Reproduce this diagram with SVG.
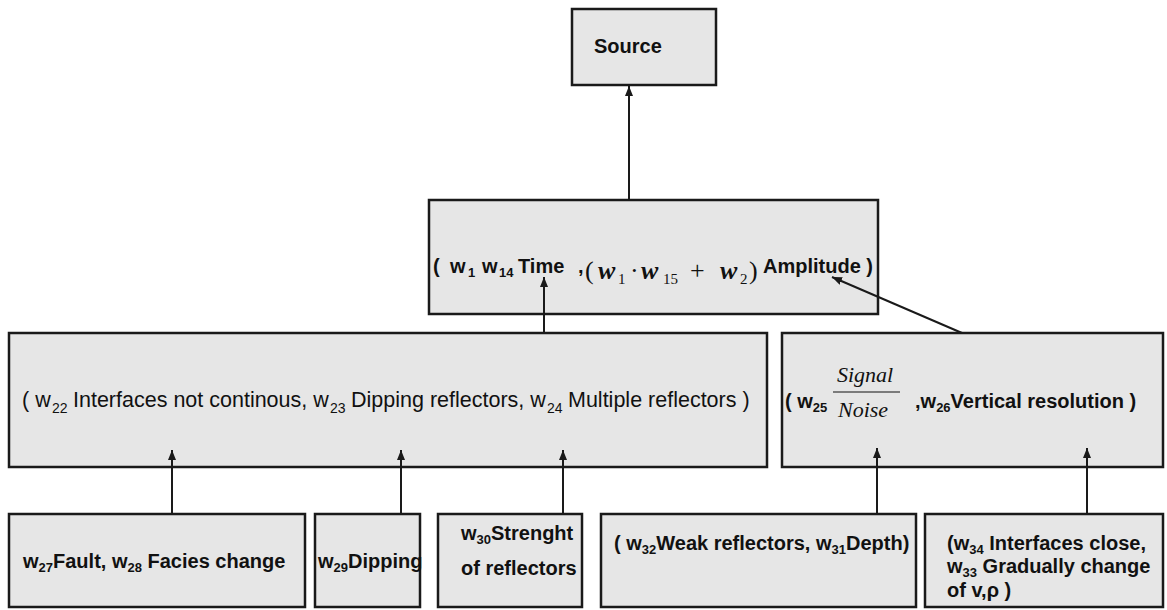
<svg xmlns="http://www.w3.org/2000/svg" width="1167" height="610" viewBox="0 0 1167 610">
  <style>
    .box { fill: #e6e6e6; stroke: #1a1a1a; stroke-width: 2.5; }
    .lbl { font-family: "Liberation Sans", Arial, sans-serif; font-size: 20px; font-weight: bold; fill: #111; }
    .cond { font-family: "Liberation Sans", Arial, sans-serif; font-size: 21.5px; fill: #111; }
    .cond-sub { font-family: "Liberation Sans", Arial, sans-serif; font-size: 14px; fill: #111; }
    .math { font-family: "Liberation Serif", "Times New Roman", serif; fill: #111; }
    .sub { font-size: 13px; }
    .link { stroke: #1a1a1a; stroke-width: 2; fill: none; marker-end: url(#arrow); }
  </style>
  <defs>
    <marker id="arrow" markerUnits="userSpaceOnUse" markerWidth="10" markerHeight="8" refX="10" refY="4" orient="auto">
      <path d="M0,0 L10,4 L0,8 z" fill="#1a1a1a"/>
    </marker>
  </defs>
  <rect width="1167" height="610" fill="#ffffff"/>

  <g id="source">
    <rect class="box" x="572" y="9" width="144" height="76"/>
    <text class="lbl" x="594" y="53">Source</text>
  </g>

  <g id="time-amplitude">
    <rect class="box" x="429" y="200" width="449" height="114"/>
    <text class="lbl" y="273"><tspan x="433">(</tspan><tspan x="450">w</tspan><tspan class="sub" x="468" dy="4">1</tspan><tspan x="482" dy="-4">w</tspan><tspan class="sub" x="499" dy="4">14</tspan><tspan x="518" dy="-4">Time</tspan><tspan x="578">,</tspan></text>
    <text class="math" y="279" font-size="26"><tspan x="585">(</tspan><tspan x="598" font-style="italic" font-weight="bold">w</tspan><tspan x="618" dy="5" font-size="15">1</tspan><tspan x="630" dy="-5">·</tspan><tspan x="641" font-style="italic" font-weight="bold">w</tspan><tspan x="663" dy="5" font-size="15">15</tspan><tspan x="690" dy="-5">+</tspan><tspan x="720" font-style="italic" font-weight="bold">w</tspan><tspan x="740" dy="5" font-size="15">2</tspan><tspan x="749" dy="-5">)</tspan></text>
    <text class="lbl" x="763" y="273">Amplitude )</text>
  </g>

  <g id="geometry-factors">
    <rect class="box" x="9" y="333" width="758" height="134"/>
    <text class="cond" x="22" y="407">( w</text>
    <text class="cond-sub" x="52" y="413">22</text>
    <text class="cond" x="73" y="407">Interfaces not continous, w</text>
    <text class="cond-sub" x="330" y="413">23</text>
    <text class="cond" x="351" y="407">Dipping reflectors, w</text>
    <text class="cond-sub" x="547" y="413">24</text>
    <text class="cond" x="568" y="407">Multiple reflectors )</text>
  </g>

  <g id="signal-resolution">
    <rect class="box" x="782" y="333" width="381" height="134"/>
    <text class="lbl" x="785" y="408">( w<tspan class="sub" dy="4">25</tspan></text>
    <text class="math" x="837" y="382" font-size="22" font-style="italic">Signal</text>
    <line x1="833" y1="392" x2="900" y2="392" stroke="#111" stroke-width="1.2"/>
    <text class="math" x="838" y="417" font-size="22" font-style="italic">Noise</text>
    <text class="lbl" x="915" y="408">,w<tspan class="sub" dy="4">26</tspan><tspan dy="-4">Vertical resolution )</tspan></text>
  </g>

  <g id="fault-facies">
    <rect class="box" x="9" y="514" width="296" height="93"/>
    <text class="lbl" x="23" y="568">w<tspan class="sub" dy="4">27</tspan><tspan dy="-4">Fault, w</tspan><tspan class="sub" dy="4">28</tspan><tspan dy="-4"> Facies change</tspan></text>
  </g>

  <g id="dipping">
    <rect class="box" x="315" y="514" width="105" height="93"/>
    <text class="lbl" x="318" y="568">w<tspan class="sub" dy="4">29</tspan><tspan dy="-4">Dipping</tspan></text>
  </g>

  <g id="strength">
    <rect class="box" x="438" y="514" width="144" height="93"/>
    <text class="lbl" x="461" y="540">w<tspan class="sub" dy="4">30</tspan><tspan dy="-4">Strenght</tspan></text>
    <text class="lbl" x="461" y="575">of reflectors</text>
  </g>

  <g id="weak-depth">
    <rect class="box" x="601" y="514" width="315" height="93"/>
    <text class="lbl" x="614" y="550">( w<tspan class="sub" dy="4">32</tspan><tspan dy="-4">Weak reflectors, w</tspan><tspan class="sub" dy="4">31</tspan><tspan dy="-4">Depth)</tspan></text>
  </g>

  <g id="close-interfaces">
    <rect class="box" x="925" y="514" width="238" height="93"/>
    <text class="lbl" x="947" y="550">(w<tspan class="sub" dy="4">34</tspan><tspan dy="-4"> Interfaces close,</tspan></text>
    <text class="lbl" x="947" y="573">w<tspan class="sub" dy="4">33</tspan><tspan dy="-4"> Gradually change</tspan></text>
    <text class="lbl" x="947" y="597">of v,ρ )</text>
  </g>

  <!-- links drawn last so the arrowheads sit on top of the boxes -->
  <g id="connectors">
    <line class="link" x1="629" y1="200" x2="629" y2="86"/>
    <line class="link" x1="544" y1="333" x2="544" y2="277"/>
    <line class="link" x1="962" y1="333" x2="832" y2="277"/>
    <line class="link" x1="172" y1="514" x2="172" y2="450"/>
    <line class="link" x1="401" y1="514" x2="401" y2="450"/>
    <line class="link" x1="563" y1="514" x2="563" y2="450"/>
    <line class="link" x1="877" y1="514" x2="877" y2="448"/>
    <line class="link" x1="1087" y1="514" x2="1087" y2="448"/>
  </g>
</svg>
